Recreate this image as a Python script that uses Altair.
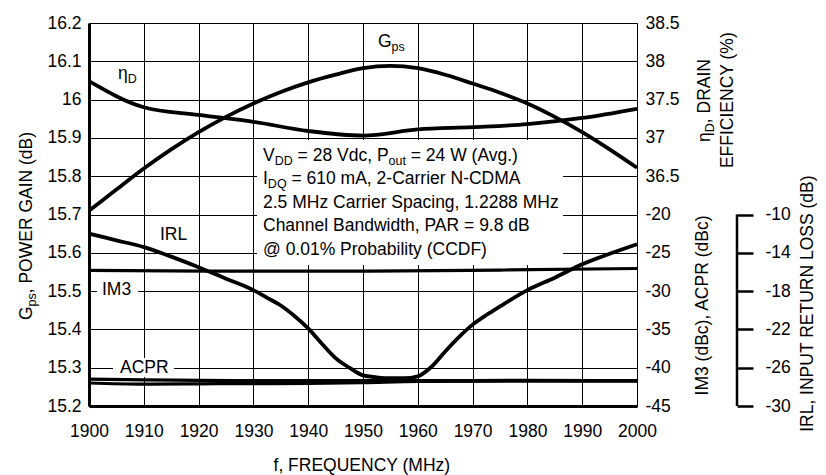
import altair as alt
import pandas as pd

FONT = "Liberation Sans"

# ---------------- data ----------------
freq = [1900, 1905, 1910, 1915, 1920, 1925, 1930, 1935, 1940, 1945, 1950,
        1955, 1960, 1965, 1970, 1975, 1980, 1985, 1990, 1995, 2000]
gps = [15.71, 15.765, 15.82, 15.87, 15.915, 15.955, 15.99, 16.02, 16.045, 16.065, 16.082,
       16.088, 16.082, 16.065, 16.042, 16.018, 15.99, 15.955, 15.915, 15.87, 15.822]

eff_freq = [1900, 1910, 1920, 1930, 1940, 1950, 1960, 1970, 1980, 1990, 2000]
eff = [37.74, 37.40, 37.30, 37.21, 37.09, 37.03, 37.11, 37.14, 37.18, 37.26, 37.38]

irl_freq = [1900, 1905, 1910, 1915, 1920, 1925, 1930, 1932.5, 1935, 1937.5, 1940, 1942.5,
            1945, 1947.5, 1950, 1952.5, 1955, 1957.5, 1960, 1962.5, 1965, 1967.5, 1970,
            1972.5, 1975, 1980, 1985, 1990, 1995, 2000]
irl = [-12.0, -12.7, -13.4, -14.4, -15.5, -16.7, -17.9, -18.7, -19.5, -20.6, -21.9, -23.5,
       -25.0, -26.0, -26.8, -27.0, -27.1, -27.1, -26.9, -25.9, -24.3, -22.8, -21.5,
       -20.5, -19.6, -17.9, -16.6, -15.2, -14.1, -13.1]

im3_freq = [1900, 1925, 1950, 1975, 2000]
im3 = [-27.3, -27.4, -27.4, -27.25, -27.05]

acpr_freq = [1900, 1910, 1920, 1940, 1950, 1960, 1980, 2000]
acpr_hi = [-41.5, -41.6, -41.65, -41.7, -41.7, -41.7, -41.65, -41.7]
acpr_lo = [-42.0, -42.15, -42.1, -42.05, -41.95, -41.8, -41.75, -41.75]

freq_ticks = list(range(1900, 2001, 10))
gps_ticks = [15.2, 15.3, 15.4, 15.5, 15.6, 15.7, 15.8, 15.9, 16.0, 16.1, 16.2]
eff_ticks = [36.5, 37, 37.5, 38, 38.5]
dbc_ticks = [-45, -40, -35, -30, -25, -20]
irl_ticks = [-30, -26, -22, -18, -14, -10]

# ---------------- layout ----------------
W, H = 548, 383
OX, OY = 89, 23          # page position of plot origin
FS = 17.5                # main font size
SUB = 12.5               # subscript size
DROP = 4                 # subscript drop
LW = 3.8                 # curve width

AW = {" ": 278, "!": 278, "(": 333, ")": 333, ",": 278, "-": 333, ".": 278,
      "%": 889, "@": 1015, "=": 584, "A": 667, "B": 667, "C": 722, "D": 722, "E": 667,
      "F": 611, "G": 778, "H": 722, "I": 278, "L": 556, "M": 833, "N": 722, "O": 778,
      "P": 667, "Q": 778, "R": 722, "S": 667, "T": 611, "U": 722, "V": 667, "W": 944,
      "Y": 667, "a": 556, "b": 556, "c": 500, "d": 556, "e": 556, "f": 278, "g": 556,
      "h": 556, "i": 222, "l": 222, "m": 833, "n": 556, "o": 556, "p": 556, "r": 333,
      "s": 500, "t": 278, "u": 556, "v": 500, "w": 722, "y": 500, "z": 500, "η": 556}


def tw(s, size):
    return sum(AW.get(c, 556) for c in s) * size / 1000


def rich(parts, x, y, angle=0, center=False):
    total = sum(tw(t, SUB if s else FS) for t, s in parts)
    pos = -total / 2 if center else 0
    rows = []
    for t, s in parts:
        sz = SUB if s else FS
        off = DROP if s else 0
        lead = len(t) - len(t.lstrip(" "))
        pos += tw(" " * lead, sz)
        t = t.lstrip(" ")
        if angle == 0:
            rows.append(dict(t=t, px=x + pos - OX, py=y + off - OY, sz=sz, ang=0))
        else:
            rows.append(dict(t=t, px=x + off - OX, py=y - pos - OY, sz=sz, ang=270))
        pos += tw(t, sz)
    return rows


ann = []
ann += rich([("G", 0), ("ps", 1)], 378, 46.7)
ann += rich([("η", 0), ("D", 1)], 118, 78.5)
ann += rich([("IRL", 0)], 160, 240)
ann += rich([("IM3", 0)], 102, 295)
ann += rich([("ACPR", 0)], 120, 373)
ann += rich([("V", 0), ("DD", 1), (" = 28 Vdc, P", 0), ("out", 1), (" = 24 W (Avg.)", 0)], 263, 160.7)
ann += rich([("I", 0), ("DQ", 1), (" = 610 mA, 2-Carrier N-CDMA", 0)], 263, 184)
ann += rich([("2.5 MHz Carrier Spacing, 1.2288 MHz", 0)], 263, 207.7)
ann += rich([("Channel Bandwidth, PAR = 9.8 dB", 0)], 263, 231.2)
ann += rich([("@ 0.01% Probability (CCDF)", 0)], 263, 254.6)
# axis titles
ann += rich([("G", 0), ("ps", 1), (", POWER GAIN (dB)", 0)], 32, 226, angle=270, center=True)
ann += rich([("η", 0), ("D", 1), (", DRAIN", 0)], 710, 100.5, angle=270, center=True)
ann += rich([("EFFICIENCY (%)", 0)], 733, 100, angle=270, center=True)
ann += rich([("IM3 (dBc), ACPR (dBc)", 0)], 708, 305, angle=270, center=True)
ann += rich([("IRL, INPUT RETURN LOSS (dB)", 0)], 813, 303.5, angle=270, center=True)
ann += rich([("f, FREQUENCY (MHz)", 0)], 362, 471, center=True)
ann_df = pd.DataFrame(ann)

boxes = pd.DataFrame([
    dict(x1=257, x2=563, y1=140, y2=265),
    dict(x1=97, x2=138, y1=280, y2=298),
    dict(x1=113, x2=174, y1=358, y2=377),
])
for c in ("x1", "x2"):
    boxes[c] = boxes[c] - OX
for c in ("y1", "y2"):
    boxes[c] = boxes[c] - OY

# ---------------- encodings ----------------
x_enc = alt.X("f:Q", scale=alt.Scale(domain=[1900, 2000], nice=False, zero=False),
              axis=alt.Axis(values=freq_ticks, format="d", grid=True, gridColor="#000",
                            gridWidth=1, gridOpacity=1, domainColor="#000", domainWidth=3,
                            ticks=False, labelPadding=16, title=None, labelFontSize=FS,
                            labelFont=FONT, labelColor="#000", labelFlush=False,
                            labelOverlap=False))


def right_axis(vals, label_expr, offset=0, **kw):
    return alt.Axis(orient="right", values=vals, labelExpr=label_expr, grid=False, title=None,
                    labelFont=FONT, labelFontSize=FS, labelColor="#000", offset=offset,
                    labelFlush=False, labelOverlap=False, **kw)


HALF_EXPR = "datum.value % 1 == 0 ? format(datum.value, 'd') : format(datum.value, '.1f')"
INT_EXPR = "replace(format(datum.value, 'd'), '\u2212', '-')"

gps_df = pd.DataFrame({"f": freq, "v": gps})
eff_df = pd.DataFrame({"f": eff_freq, "v": eff})
irl_df = pd.DataFrame({"f": irl_freq, "v": irl})
dbc_df = pd.concat([
    pd.DataFrame({"f": im3_freq, "v": im3, "s": "IM3"}),
    pd.DataFrame({"f": acpr_freq, "v": acpr_hi, "s": "ACPR hi"}),
    pd.DataFrame({"f": acpr_freq, "v": acpr_lo, "s": "ACPR lo"}),
])
irl_span = pd.DataFrame({"v": [min(irl_ticks)], "hi": [max(irl_ticks)]})

box_layer = alt.Chart(boxes).mark_rect(color="white", opacity=1).encode(
    x=alt.X("x1:Q", scale=None, axis=None), x2="x2:Q",
    y=alt.Y("y1:Q", scale=None, axis=None), y2="y2:Q")

gps_layer = alt.Chart(gps_df).mark_line(color="#000", strokeWidth=LW, interpolate="monotone").encode(
    x=x_enc,
    y=alt.Y("v:Q", scale=alt.Scale(domain=[15.2, 16.2], nice=False, zero=False),
            axis=alt.Axis(orient="left", values=gps_ticks,
                          labelExpr="abs(datum.value - 16) < 0.001 ? '16' : format(datum.value, '.1f')",
                          grid=True, gridColor="#000", gridWidth=1, gridOpacity=1,
                          domainColor="#000", domainWidth=3, ticks=False, labelPadding=8,
                          title=None, labelFont=FONT, labelFontSize=FS, labelColor="#000",
                          labelFlush=False, labelOverlap=False)))

eff_layer = alt.Chart(eff_df).mark_line(color="#000", strokeWidth=LW, interpolate="monotone").encode(
    x=x_enc,
    y=alt.Y("v:Q", scale=alt.Scale(domain=[33.5, 38.5], nice=False, zero=False),
            axis=right_axis(eff_ticks, HALF_EXPR, domain=False, ticks=False, labelPadding=8)))

dbc_layer = alt.Chart(dbc_df).mark_line(color="#000", strokeWidth=3.2, interpolate="monotone").encode(
    x=x_enc,
    y=alt.Y("v:Q", scale=alt.Scale(domain=[-45, 5], nice=False, zero=False),
            axis=right_axis(dbc_ticks, INT_EXPR, domain=False, ticks=False, labelPadding=8)),
    detail="s:N")

irl_y = alt.Y("v:Q", scale=alt.Scale(domain=[-30, 10], nice=False, zero=False),
              axis=right_axis(irl_ticks, INT_EXPR, offset=100, domain=False, ticks=True,
                              tickSize=16, tickWidth=2.5, tickColor="#000", labelPadding=12))
irl_line = alt.Chart(irl_df).mark_line(color="#000", strokeWidth=LW, interpolate="monotone").encode(
    x=x_enc, y=irl_y)
irl_bracket = alt.Chart(irl_span).mark_rule(color="#000", strokeWidth=2.5).encode(
    x=alt.value(W + 100), y=irl_y, y2="hi:Q")
irl_layer = alt.layer(irl_line, irl_bracket)

text_layer = alt.Chart(ann_df).mark_text(align="left", baseline="alphabetic", font=FONT,
                                         color="#000").encode(
    x=alt.X("px:Q", scale=None, axis=None),
    y=alt.Y("py:Q", scale=None, axis=None),
    text="t:N",
    size=alt.Size("sz:Q", scale=None, legend=None),
    angle=alt.Angle("ang:Q", scale=None, legend=None))

chart = alt.layer(box_layer, gps_layer, eff_layer, dbc_layer, irl_layer, text_layer).resolve_scale(
    y="independent"
).properties(
    width=W, height=H,
    autosize=alt.AutoSizeParams(type="none"),
    padding={"left": 81, "top": 15, "right": 181, "bottom": 69},
).configure_view(stroke="#000", strokeWidth=1.2).configure(background="white")

chart.save("out.html", embed_options={"renderer": "svg", "actions": False})
